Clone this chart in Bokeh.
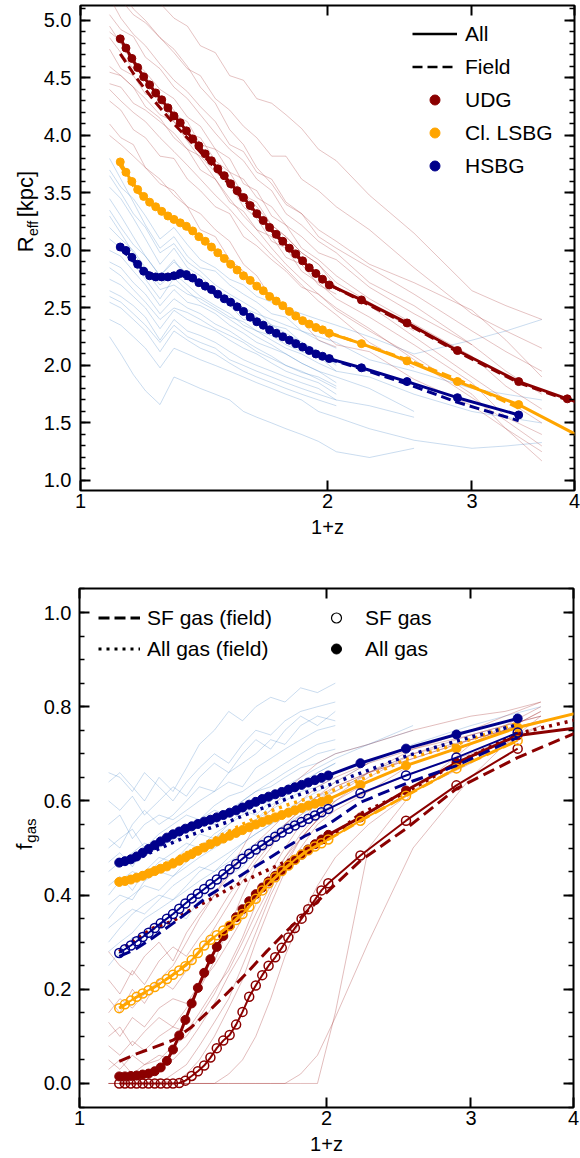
import math
from bokeh.plotting import figure
from bokeh.models import (LinearAxis, LogAxis, FixedTicker, Range1d,
                          Legend, LegendItem, PrintfTickFormatter, CustomJSTickFormatter)
from bokeh.layouts import column, row
from bokeh.core.properties import value
from bokeh.embed import file_html
from bokeh.resources import INLINE

FONT = "Liberation Sans"
DARKRED = "#8b0000"
ORANGE = "#ffa500"
NAVY = "#00008b"
THIN_RED = "#a83838"
THIN_BLUE = "#4f8cc9"

# ---------------- data: 1+z grids ----------------
X_DENSE = [1.118, 1.136, 1.155, 1.174, 1.194, 1.214, 1.235, 1.256, 1.278, 1.300,
           1.323, 1.346, 1.370, 1.394, 1.419, 1.444, 1.470, 1.497, 1.524, 1.552,
           1.580, 1.610, 1.640, 1.670, 1.700, 1.732, 1.764, 1.797, 1.830, 1.865,
           1.900, 1.936, 1.972, 2.010]
X_LATE = [2.20, 2.50, 2.88, 3.42]
X_FIELD = [1.118, 1.17, 1.23, 1.30, 1.37, 1.44, 1.52, 1.60, 1.69, 1.78, 1.88,
           2.00, 2.20, 2.50, 2.88, 3.42]
X_EDGE = [4.30]
X_UDG_TOP_EXTRA = [3.92, 4.30]
GX = [1.085, 1.12, 1.16, 1.20, 1.25, 1.30, 1.35, 1.40, 1.46, 1.52, 1.58, 1.64,
      1.71, 1.78, 1.86, 1.95, 2.05, 2.25, 2.55, 3.00, 3.30, 3.65]

# ---------------- top panel: R_eff [kpc] ----------------
udg_all_reff = [4.84, 4.76, 4.67, 4.59, 4.51, 4.44, 4.37, 4.31, 4.24, 4.17,
                4.11, 4.04, 3.97, 3.91, 3.84, 3.78, 3.71, 3.65, 3.58, 3.52,
                3.46, 3.39, 3.32, 3.26, 3.20, 3.14, 3.08, 3.02, 2.97, 2.91,
                2.85, 2.80, 2.75, 2.70, 2.57, 2.37, 2.13, 1.86, 1.71, 1.61]
udg_field_reff = [4.71, 4.50, 4.30, 4.10, 3.93, 3.76, 3.57, 3.40, 3.21, 3.04, 2.88,
                  2.71, 2.56, 2.36, 2.12, 1.85, 1.60]
lsbg_all_reff = [3.77, 3.68, 3.60, 3.53, 3.47, 3.42, 3.38, 3.34, 3.30, 3.27,
                 3.24, 3.21, 3.17, 3.12, 3.08, 3.03, 2.98, 2.93, 2.88, 2.83,
                 2.78, 2.74, 2.69, 2.65, 2.60, 2.56, 2.52, 2.47, 2.43, 2.39,
                 2.36, 2.33, 2.31, 2.28, 2.19, 2.04, 1.86, 1.66, 1.29]
lsbg_field_reff = [3.74, 3.52, 3.38, 3.26, 3.16, 3.04, 2.89, 2.76, 2.62, 2.50, 2.38,
                   2.29, 2.19, 2.05, 1.88, 1.63]
hsbg_all_reff = [3.03, 3.00, 2.94, 2.88, 2.82, 2.78, 2.77, 2.77, 2.77, 2.78,
                 2.80, 2.79, 2.76, 2.72, 2.69, 2.66, 2.62, 2.58, 2.55, 2.51,
                 2.47, 2.42, 2.38, 2.35, 2.31, 2.28, 2.25, 2.22, 2.19, 2.16,
                 2.13, 2.10, 2.08, 2.06, 1.98, 1.86, 1.72, 1.57]
hsbg_field_reff = [3.02, 2.88, 2.77, 2.77, 2.75, 2.65, 2.55, 2.44, 2.32, 2.23, 2.14,
                   2.06, 1.97, 1.84, 1.68, 1.52]

udg_thin_reff = [
    [5.35, 5.25, 5.10, 5.00, 4.85, 4.75, 4.60, 4.42, 4.28, 4.05, 3.92, 3.72, 3.58, 3.40, 3.32, 3.12, 3.02, 2.85, 2.62, 2.30, 2.12, 1.95],
    [4.90, 4.82, 4.66, 4.55, 4.40, 4.32, 4.16, 4.08, 3.88, 3.80, 3.58, 3.52, 3.30, 3.22, 3.02, 2.92, 2.78, 2.58, 2.36, 2.08, 1.82, 1.62],
    [4.60, 4.52, 4.42, 4.25, 4.15, 3.98, 3.88, 3.70, 3.62, 3.42, 3.34, 3.18, 3.12, 2.94, 2.88, 2.70, 2.62],
    [5.20, 5.02, 4.88, 4.78, 4.62, 4.48, 4.38, 4.25, 4.12, 3.92, 3.86, 3.68, 3.62, 3.42, 3.32, 3.18, 3.08, 2.88, 2.72, 2.48, 2.22, 1.90],
    [4.30, 4.22, 4.05, 3.98, 3.82, 3.80, 3.62, 3.52, 3.38, 3.32, 3.12, 3.04, 2.92, 2.82, 2.68, 2.62, 2.48, 2.30, 2.08, 1.75, 1.45, 1.25],
    [4.75, 4.58, 4.52, 4.36, 4.32, 4.18, 4.12, 3.92, 3.88, 3.68, 3.62, 3.46, 3.38, 3.22, 3.12, 2.98, 2.92, 2.68, 2.45, 2.18],
    [5.60, 5.48, 5.38, 5.25, 5.15, 5.02, 4.95, 4.78, 4.72, 4.52, 4.48, 4.32, 4.28, 4.18, 4.06, 3.88, 3.78, 3.48, 3.15, 2.65, 2.52, 2.40],
    [5.20, 5.18, 5.05, 4.98, 4.85, 4.72, 4.58, 4.52, 4.32, 4.22, 4.08, 3.98, 3.82, 3.82, 3.62, 3.52, 3.38, 3.18, 2.85, 2.45, 2.30, 2.15],
    [4.10, 3.98, 3.92, 3.72, 3.62, 3.48, 3.38, 3.18, 3.12, 2.92, 2.82, 2.68, 2.62, 2.48, 2.38, 2.22, 2.16],
    [4.45, 4.42, 4.28, 4.22, 4.12, 4.02, 3.88, 3.82, 3.68, 3.58, 3.38, 3.28, 3.08, 3.02, 2.82, 2.72, 2.58, 2.42, 2.18, 1.85, 1.55, 1.40],
    [5.05, 4.92, 4.86, 4.68, 4.58, 4.42, 4.32, 4.18, 4.02, 3.88, 3.78, 3.62, 3.52, 3.32, 3.22, 3.08, 2.98, 2.72, 2.52, 2.18, 1.95, 1.75],
    [4.00, 3.92, 3.82, 3.72, 3.58, 3.52, 3.38, 3.32, 3.18, 3.08, 2.88, 2.78, 2.58, 2.52, 2.38, 2.32, 2.18, 2.12, 1.88, 1.65, 1.45, 1.17],
    [4.55, 4.52, 4.42, 4.32, 4.18, 4.12, 3.98, 3.88, 3.72, 3.62, 3.48, 3.38, 3.22, 3.12, 2.98, 2.88, 2.72, 2.55, 2.30],
    [4.85, 4.72, 4.58, 4.52, 4.32, 4.22, 4.02, 3.98, 3.78, 3.68, 3.48, 3.42, 3.22, 3.12, 2.98, 2.88, 2.68, 2.52, 2.25, 1.90, 1.70, 1.50],
    [4.95, 4.80, 4.62, 4.48, 4.30, 4.12, 3.95, 3.80, 3.62, 3.45, 3.30, 3.18, 3.02, 2.88, 2.75, 2.62, 2.50, 2.32, 2.05, 1.72, 1.52, 1.30],
    [4.40, 4.30, 4.20, 4.12, 3.98, 3.86, 3.74, 3.62, 3.48, 3.36, 3.22, 3.10, 2.96, 2.84, 2.70, 2.56, 2.44, 2.20, 1.98],
]
hsbg_thin_reff = [
    [3.80, 3.62, 3.42, 3.22, 3.02, 3.12, 2.95, 2.85, 2.82, 2.70, 2.62, 2.55, 2.45, 2.42, 2.30, 2.22, 2.15],
    [3.65, 3.50, 3.32, 3.20, 2.98, 3.06, 2.90, 2.82, 2.70, 2.62, 2.55, 2.48, 2.35, 2.32, 2.20, 2.12, 2.05, 1.95, 1.85],
    [3.55, 3.45, 3.28, 3.10, 2.88, 3.02, 2.85, 2.78, 2.65, 2.60, 2.50, 2.42, 2.35, 2.28, 2.20, 2.12, 2.00],
    [3.45, 3.30, 3.12, 2.95, 2.78, 2.92, 2.75, 2.72, 2.60, 2.52, 2.40, 2.38, 2.30, 2.22, 2.15, 2.08, 1.95],
    [3.10, 3.02, 2.88, 2.75, 2.58, 2.76, 2.65, 2.55, 2.48, 2.40, 2.32, 2.25, 2.18, 2.10, 2.02, 1.95, 1.90, 1.80, 1.60],
    [3.00, 2.95, 2.82, 2.70, 2.52, 2.66, 2.55, 2.52, 2.45, 2.35, 2.28, 2.20, 2.15, 2.10, 2.02, 1.95, 1.85],
    [2.90, 2.85, 2.72, 2.62, 2.45, 2.58, 2.50, 2.45, 2.36, 2.30, 2.22, 2.15, 2.08, 2.00, 1.95, 1.88, 1.80],
    [2.75, 2.70, 2.60, 2.50, 2.32, 2.48, 2.40, 2.35, 2.30, 2.22, 2.15, 2.10, 2.02, 1.95, 1.90, 1.85, 1.75],
    [2.65, 2.60, 2.52, 2.42, 2.22, 2.40, 2.30, 2.26, 2.20, 2.12, 2.05, 2.00, 1.95, 1.90, 1.85, 1.80, 1.70],
    [2.55, 2.50, 2.40, 2.30, 2.12, 2.30, 2.22, 2.15, 2.10, 2.02, 1.95, 1.90, 1.85, 1.80, 1.75, 1.70, 1.65],
    [2.25, 2.10, 1.92, 1.78, 1.66, 1.90, 1.85, 1.80, 1.75, 1.70, 1.60, 1.55, 1.50, 1.45, 1.40, 1.34, 1.25, 1.20, 1.28],
    [3.35, 3.20, 3.05, 2.95, 2.78, 2.90, 2.80, 2.70, 2.62, 2.55, 2.50, 2.45, 2.40, 2.35, 2.30, 2.25, 2.20, 2.05, 1.95, 1.80, 1.75, 1.70],
    [3.70, 3.55, 3.45, 3.30, 3.10, 3.20, 3.05, 2.92, 2.85, 2.75, 2.70, 2.60, 2.55, 2.50, 2.45, 2.40, 2.35, 2.25, 2.10, 2.22, 2.30, 2.40],
    [2.40, 2.35, 2.25, 2.15, 1.98, 2.15, 2.10, 2.05, 2.00, 1.95, 1.90, 1.85, 1.80, 1.75, 1.70, 1.60, 1.55, 1.45, 1.35, 1.28, 1.30, 1.33],
    [3.20, 3.10, 3.00, 2.85, 2.70, 2.80, 2.70, 2.60, 2.52, 2.45, 2.35, 2.30, 2.22, 2.15, 2.10, 2.02, 1.95, 1.90, 1.75, 1.60, 1.55, 1.50],
    [2.60, 2.55, 2.45, 2.35, 2.20, 2.35, 2.25, 2.20, 2.15, 2.05, 2.00, 1.95, 1.90, 1.85, 1.80, 1.75, 1.70, 1.65, 1.55],
    [3.30, 3.15, 2.98, 2.82, 2.66, 2.70, 2.62, 2.58, 2.50, 2.42, 2.38, 2.30, 2.26, 2.18, 2.12, 2.08, 2.02],
    [2.85, 2.78, 2.66, 2.55, 2.40, 2.50, 2.46, 2.40, 2.32, 2.26, 2.20, 2.12, 2.06, 2.00, 1.94, 1.90, 1.82],
]

# ---------------- bottom panel: f_gas ----------------
hsbg_all_f = [.469, .472, .476, .482, .490, .498, .506, .514, .522, .529,
              .535, .541, .546, .551, .556, .560, .565, .570, .575, .580,
              .586, .592, .598, .604, .609, .614, .619, .624, .629, .634,
              .639, .644, .649, .654, .680, .711, .741, .775]
hsbg_allfield_f = [.465, .475, .493, .512, .528, .542, .556, .572, .588, .603, .617,
                   .632, .659, .695, .727, .762]
hsbg_sf_f = [.277, .285, .293, .302, .311, .320, .330, .340, .350, .360,
             .371, .382, .393, .403, .413, .423, .433, .444, .455, .466,
             .477, .488, .497, .506, .515, .524, .533, .541, .548, .555,
             .562, .569, .576, .583, .616, .654, .692, .745]
hsbg_sffield_f = [.270, .285, .310, .340, .370, .400, .425, .450, .475, .500, .525,
                  .548, .597, .637, .675, .735]
lsbg_all_f = [.428, .430, .433, .437, .441, .446, .451, .456, .461, .467,
              .473, .480, .487, .494, .501, .508, .514, .520, .526, .532,
              .538, .544, .550, .555, .560, .565, .570, .575, .580, .585,
              .590, .594, .598, .603, .634, .675, .711, .756, .798]
lsbg_allfield_f = [.430, .440, .455, .475, .495, .515, .535, .555, .575, .590, .603,
                   .617, .645, .688, .720, .765]
lsbg_sf_f = [.160, .168, .176, .184, .191, .198, .205, .213, .222, .231,
             .240, .249, .262, .277, .293, .305, .315, .325, .335, .347,
             .360, .375, .392, .410, .425, .438, .451, .463, .475, .486,
             .495, .503, .510, .518, .558, .611, .669, .728]
lsbg_sffield_f = [.160, .182, .203, .231, .262, .303, .334, .370, .420, .457, .490,
                  .516, .558, .611, .669, .728]
udg_all_f = [.015, .015, .016, .017, .019, .021, .026, .034, .048, .072,
             .102, .135, .170, .203, .235, .264, .290, .313, .334, .353,
             .370, .387, .402, .416, .429, .441, .453, .464, .475, .486,
             .497, .508, .518, .528, .565, .622, .681, .739, .761]
udg_allfield_f = [.280, .305, .330, .345, .370, .390, .413, .433, .452, .470, .490,
                  .515, .573, .618, .680, .743, .784]
udg_sf_f = [0.0, 0.0, 0.0, 0.0, 0.0, 0.0, 0.0, 0.0, 0.0, 0.0,
            .001, .006, .016, .026, .038, .055, .075, .091, .103, .125,
            .152, .184, .208, .230, .250, .268, .288, .310, .330, .350,
            .370, .390, .410, .425, .484, .558, .633, .711]
udg_sffield_f = [.047, .062, .076, .092, .120, .155, .195, .235, .280, .320, .360,
                 .405, .473, .541, .626, .692, .766]

hsbg_thin_f = [
    [.64, .66, .63, .60, .65, .62, .67, .72, .75, .79, .77, .80, .82, .81, .84, .83, .85],
    [.55, .57, .52, .55, .57, .56, .58, .60, .62, .64, .63, .67, .69, .71, .73, .75, .76],
    [.50, .52, .54, .50, .53, .55, .57, .56, .59, .61, .62, .64, .66, .68, .70, .72, .73],
    [.45, .47, .49, .51, .50, .52, .54, .56, .55, .58, .60, .62, .63, .65, .67, .68, .70, .72, .75],
    [.40, .43, .45, .44, .47, .49, .51, .50, .53, .55, .57, .59, .60, .62, .64, .66, .68],
    [.35, .38, .40, .42, .41, .44, .46, .48, .50, .52, .54, .56, .58, .60, .62, .63, .65],
    [.30, .33, .36, .38, .40, .39, .42, .45, .47, .49, .51, .53, .55, .57, .59, .61, .62, .66, .70],
    [.28, .30, .32, .35, .37, .39, .41, .43, .45, .47, .49, .51, .53, .55, .57, .59, .60],
    [.52, .50, .55, .58, .55, .57, .60, .63, .62, .66, .68, .70, .73, .72, .76, .78, .77],
    [.42, .44, .41, .45, .48, .47, .50, .53, .52, .55, .58, .57, .60, .63, .65, .67, .69, .72, .76],
    [.66, .65, .62, .66, .63, .60, .64, .67, .70, .68, .72, .75, .74, .77, .79, .80, .81],
    [.47, .49, .46, .50, .52, .51, .54, .56, .58, .57, .60, .62, .64, .66, .68, .70, .71],
    [.33, .35, .37, .36, .39, .42, .44, .46, .45, .48, .51, .53, .55, .58, .60, .62, .64, .68, .72, .76, .78, .80],
    [.38, .40, .39, .43, .45, .44, .47, .49, .52, .54, .53, .56, .59, .61, .63, .66, .68],
    [.60, .58, .61, .57, .60, .63, .61, .65, .68, .66, .70, .73, .71, .75, .78, .76, .79],
    [.25, .28, .31, .30, .34, .36, .35, .39, .42, .44, .46, .49, .51, .54, .56, .58, .59],
]
udg_thin_f = [
    [0, 0, 0, 0, 0, 0, 0, 0, 0, 0, 0, 0, 0, 0, 0, 0, .15, .50, .62, .72, .76, .80],
    [.18, .15, .20, .17, .22, .25, .30, .35, .40, .45, .50, .55, .58, .62, .65, .68, .70, .72, .75, .78, .79, .81],
    [.10, .12, .08, .11, .14, .12, .16, .20, .26, .33, .40, .46, .50, .55, .58, .61, .63, .66, .70, .74, .76, .78],
    [.05, .03, .06, .04, .05, .08, .10, .14, .19, .25, .31, .38, .44, .48, .52, .56, .60, .65, .70, .73, .75, .77],
    [0, 0, 0, 0, 0, .02, .04, .08, .13, .18, .25, .32, .40, .46, .52, .56, .59, .62, .66, .70, .73, .76],
    [.22, .19, .24, .21, .26, .29, .27, .31, .35, .40, .44, .48, .52, .55, .58, .61, .64, .68, .71, .74, .76, .78],
    [0, 0, .01, 0, .01, 0, .02, .05, .10, .16, .22, .30, .38, .45, .50, .55, .58, .62, .68, .72, .75, .77],
    [.13, .10, .14, .12, .16, .18, .17, .21, .25, .30, .35, .40, .45, .50, .55, .60, .63, .66, .69, .73, .75, .79],
    [0, 0, 0, 0, 0, 0, 0, 0, 0, .02, .05, .10, .18, .27, .35, .42, .48, .55, .62, .68, .72, .76],
    [.08, .06, .09, .07, .10, .12, .11, .15, .20, .24, .30, .36, .42, .47, .52, .56, .60, .64, .68, .72],
    [.28, .25, .23, .27, .30, .26, .32, .36, .40, .44, .48, .51, .54, .57, .60, .63, .65, .68],
    [0, 0, 0, 0, 0, 0, 0, 0, 0, 0, 0, 0, 0, 0, .02, .06, .14, .30, .50, .65, .72, .78],
    [.03, .05, .02, .04, .06, .05, .08, .12, .17, .23, .28, .34, .41, .48, .53, .57, .61, .66, .71, .75, .78, .81],
    [.15, .18, .16, .19, .22, .20, .24, .28, .33, .38, .43, .47, .51, .54, .57, .60, .62, .66, .69, .73, .75, .79],
]

X_TICKS = [1, 2, 3, 4]
REFF_TICKS = [1.0, 1.5, 2.0, 2.5, 3.0, 3.5, 4.0, 4.5, 5.0]
FGAS_TICKS = [0.0, 0.2, 0.4, 0.6, 0.8, 1.0]


# ---------------- helpers ----------------
def style_axis(ax, ticker, labels, fmt):
    ax.ticker = ticker
    ax.axis_line_color = None
    ax.major_tick_in = 10
    ax.major_tick_out = 0
    ax.minor_tick_in = 5
    ax.minor_tick_out = 0
    ax.major_tick_line_width = 2
    ax.minor_tick_line_width = 1.5
    ax.major_tick_line_color = "black"
    ax.minor_tick_line_color = "black"
    ax.major_label_text_font = FONT
    ax.major_label_text_font_size = "20px"
    ax.major_label_text_color = "black"
    if labels:
        ax.formatter = fmt
    else:
        ax.formatter = CustomJSTickFormatter(code="return ''")
        ax.major_label_standoff = 0


def make_fig(width, height, left, right, top, bottom, yr, yticks, yminor):
    p = figure(width=width, height=height, x_axis_type="log",
               x_range=Range1d(1, 4), y_range=Range1d(*yr),
               output_backend="svg", toolbar_location=None,
               min_border_left=left, min_border_right=right,
               min_border_top=top, min_border_bottom=bottom)
    p.grid.visible = False
    p.outline_line_color = "black"
    p.outline_line_width = 2
    p.background_fill_color = "white"
    p.border_fill_color = "white"
    style_axis(p.xaxis[0], FixedTicker(ticks=X_TICKS, minor_ticks=[]), True,
               PrintfTickFormatter(format="%d"))
    style_axis(p.yaxis[0], FixedTicker(ticks=yticks, minor_ticks=yminor), True,
               PrintfTickFormatter(format="%.1f"))
    p.xaxis[0].major_label_standoff = 3
    p.yaxis[0].major_label_standoff = 9
    p.xaxis[0].axis_label = "1+z"
    p.xaxis[0].axis_label_text_font = FONT
    p.xaxis[0].axis_label_text_font_size = "20px"
    p.xaxis[0].axis_label_text_font_style = "normal"
    p.xaxis[0].axis_label_text_color = "black"
    top_ax = LogAxis()
    style_axis(top_ax, FixedTicker(ticks=X_TICKS, minor_ticks=[]), False, None)
    p.add_layout(top_ax, "above")
    right_ax = LinearAxis()
    style_axis(right_ax, FixedTicker(ticks=yticks, minor_ticks=yminor), False, None)
    p.add_layout(right_ax, "right")
    return p


def label_fig(w, h):
    f = figure(width=w, height=h, x_range=Range1d(0, w), y_range=Range1d(0, h),
               output_backend="svg", toolbar_location=None,
               x_axis_location=None, y_axis_location=None, min_border=0)
    f.grid.visible = False
    f.outline_line_color = None
    f.border_fill_color = "white"
    return f


def vtext(f, x, y, txt, size):
    f.text(x=[x], y=[y], text=[txt], angle=math.pi / 2, text_align="left",
           text_baseline="alphabetic", text_font=value(FONT),
           text_font_size=value(size), text_color="black")


def thin(p, series, color, alpha):
    p.multi_line(xs=[GX[:len(v)] for v in series], ys=series,
                 line_color=color, line_alpha=alpha, line_width=1)


def leg(items, x, y, gw, standoff, spacing):
    return Legend(items=items, location=(x, y), orientation="vertical",
                  label_text_font=FONT, label_text_font_size="21px",
                  label_text_color="black", glyph_width=gw, glyph_height=25,
                  label_height=25, spacing=spacing, padding=0, margin=0,
                  label_standoff=standoff, border_line_alpha=0,
                  background_fill_alpha=0)


nan = float("nan")

# ---------------- top panel ----------------
p1 = make_fig(540, 570, 38, 6, 5, 80, (0.913, 5.130), REFF_TICKS,
              [round(0.9 + 0.1 * i, 2) for i in range(43)])
p1.xaxis[0].axis_label_standoff = 18

thin(p1, hsbg_thin_reff, THIN_BLUE, 0.3)
thin(p1, udg_thin_reff, THIN_RED, 0.3)

for xs_all, ys_all, xf, ys_field, col in [
        (X_DENSE + X_LATE + X_UDG_TOP_EXTRA, udg_all_reff, X_FIELD + X_EDGE, udg_field_reff, DARKRED),
        (X_DENSE + X_LATE + X_EDGE, lsbg_all_reff, X_FIELD, lsbg_field_reff, ORANGE),
        (X_DENSE + X_LATE, hsbg_all_reff, X_FIELD, hsbg_field_reff, NAVY)]:
    p1.line(xf, ys_field, line_color=col, line_width=3, line_dash="10 5")
    p1.line(xs_all, ys_all, line_color=col, line_width=3)
    p1.scatter(xs_all, ys_all, marker="circle", size=8, fill_color=col, line_color=col)

l_all = p1.line([nan], [nan], line_color="black", line_width=2.5)
l_field = p1.line([nan], [nan], line_color="black", line_width=2.5, line_dash="10 5")
m_udg = p1.scatter([nan], [nan], marker="circle", size=7, fill_color=DARKRED, line_color=DARKRED)
m_lsbg = p1.scatter([nan], [nan], marker="circle", size=7, fill_color=ORANGE, line_color=ORANGE)
m_hsbg = p1.scatter([nan], [nan], marker="circle", size=7, fill_color=NAVY, line_color=NAVY)
p1.add_layout(leg([LegendItem(label="All", renderers=[l_all]),
                   LegendItem(label="Field", renderers=[l_field]),
                   LegendItem(label="UDG", renderers=[m_udg]),
                   LegendItem(label="Cl. LSBG", renderers=[m_lsbg]),
                   LegendItem(label="HSBG", renderers=[m_hsbg])],
                  332, 312, 45, 8, 8))

lab1 = label_fig(40, 570)
vtext(lab1, 25, 280, "R", "22px")
vtext(lab1, 32, 299, "eff", "14px")
vtext(lab1, 25, 321, "[kpc]", "22px")

# ---------------- bottom panel ----------------
p2 = make_fig(540, 588, 36, 7, 18, 51, (-0.051, 1.051), FGAS_TICKS,
              [round(-0.05 + 0.05 * i, 2) for i in range(23)])
p2.yaxis[0].major_label_standoff = 8
p2.xaxis[0].axis_label_standoff = 1
p2.xaxis[0].major_label_standoff = 5
p2.xaxis[0].major_label_text_line_height = 1.0
p2.xaxis[0].axis_label_text_line_height = 1.0

thin(p2, hsbg_thin_f, THIN_BLUE, 0.3)
thin(p2, udg_thin_f, THIN_RED, 0.33)

groups = [
    (DARKRED, X_DENSE + X_LATE + X_EDGE, udg_all_f, X_DENSE + X_LATE, udg_sf_f,
     X_FIELD + X_EDGE, udg_allfield_f, X_FIELD + X_EDGE, udg_sffield_f),
    (ORANGE, X_DENSE + X_LATE + X_EDGE, lsbg_all_f, X_DENSE + X_LATE, lsbg_sf_f,
     X_FIELD, lsbg_allfield_f, X_FIELD, lsbg_sffield_f),
    (NAVY, X_DENSE + X_LATE, hsbg_all_f, X_DENSE + X_LATE, hsbg_sf_f,
     X_FIELD, hsbg_allfield_f, X_FIELD, hsbg_sffield_f),
]
for col, xa, ya, xs_, ys_, xaf, yaf, xsf, ysf in groups:
    p2.line(xsf, ysf, line_color=col, line_width=3, line_dash="12 6")
    p2.line(xaf, yaf, line_color=col, line_width=3.5, line_dash="3 5")
    p2.line(xs_, ys_, line_color=col, line_width=2)
    p2.scatter(xs_, ys_, marker="circle", size=9, fill_color=None, line_color=col, line_width=1.5)
    p2.line(xa, ya, line_color=col, line_width=3)
    p2.scatter(xa, ya, marker="circle", size=9, fill_color=col, line_color=col)

l_sff = p2.line([nan], [nan], line_color="black", line_width=3, line_dash="11 5")
l_allf = p2.line([nan], [nan], line_color="black", line_width=3, line_dash="3 5")
m_sf = p2.scatter([nan], [nan], marker="circle", size=8, fill_color=None, line_color="black", line_width=1.2)
m_all = p2.scatter([nan], [nan], marker="circle", size=9, fill_color="black", line_color="black")
p2.add_layout(leg([LegendItem(label="SF gas (field)", renderers=[l_sff]),
                   LegendItem(label="All gas (field)", renderers=[l_allf])],
                  19, 446, 42, 7, 6))
p2.add_layout(leg([LegendItem(label="SF gas", renderers=[m_sf]),
                   LegendItem(label="All gas", renderers=[m_all])],
                  242, 446, 30, 14, 6))

lab2 = label_fig(40, 588)
vtext(lab2, 24, 292, "f", "22px")
vtext(lab2, 30, 300, "gas", "15px")

layout = column(row(lab1, p1, spacing=0), row(lab2, p2, spacing=0), spacing=0)
open("out.html", "w").write(file_html(layout, INLINE))
